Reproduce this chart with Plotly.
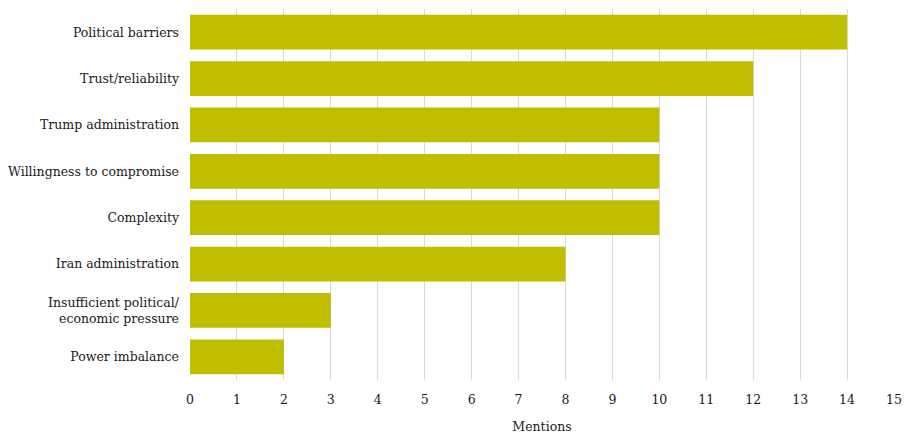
import plotly.graph_objects as go

# categories, top to bottom as in the chart
categories = [
    "Political barriers",
    "Trust/reliability",
    "Trump administration",
    "Willingness to compromise",
    "Complexity",
    "Iran administration",
    "Insufficient political/<br>economic pressure",
    "Power imbalance",
]
mentions = [14, 12, 10, 10, 10, 8, 3, 2]
x_ticks = list(range(0, 16))

bar_color = "#bfbe00"
font_family = "DejaVu Serif"

fig = go.Figure(go.Bar(
    x=mentions,
    y=categories,
    orientation="h",
    marker=dict(color=bar_color, line=dict(width=0)),
    width=0.75,
))

# the page body has an 8px margin, so the figure is a bit smaller than the window
fig.update_layout(
    width=907,
    height=435,
    margin=dict(l=182, r=21, t=1, b=63),
    plot_bgcolor="white",
    paper_bgcolor="white",
    font=dict(family=font_family, size=12.5, color="#1a1a1a"),
    showlegend=False,
    bargap=0.25,
)

fig.update_xaxes(
    range=[0, 15],
    tickvals=x_ticks,
    showgrid=True,
    gridcolor="#d9d9d9",
    gridwidth=1,
    zeroline=False,
    showline=False,
    ticks="",
    automargin=False,
    ticklabelstandoff=10,
    title=dict(text="Mentions", font=dict(size=12.5), standoff=16),
    tickfont=dict(size=12.5),
)

fig.update_yaxes(
    categoryorder="array",
    categoryarray=categories[::-1],
    showgrid=False,
    zeroline=False,
    showline=False,
    ticks="",
    automargin=False,
    ticklabelstandoff=10,
    tickfont=dict(size=12.5),
)

fig.write_html("out.html")
